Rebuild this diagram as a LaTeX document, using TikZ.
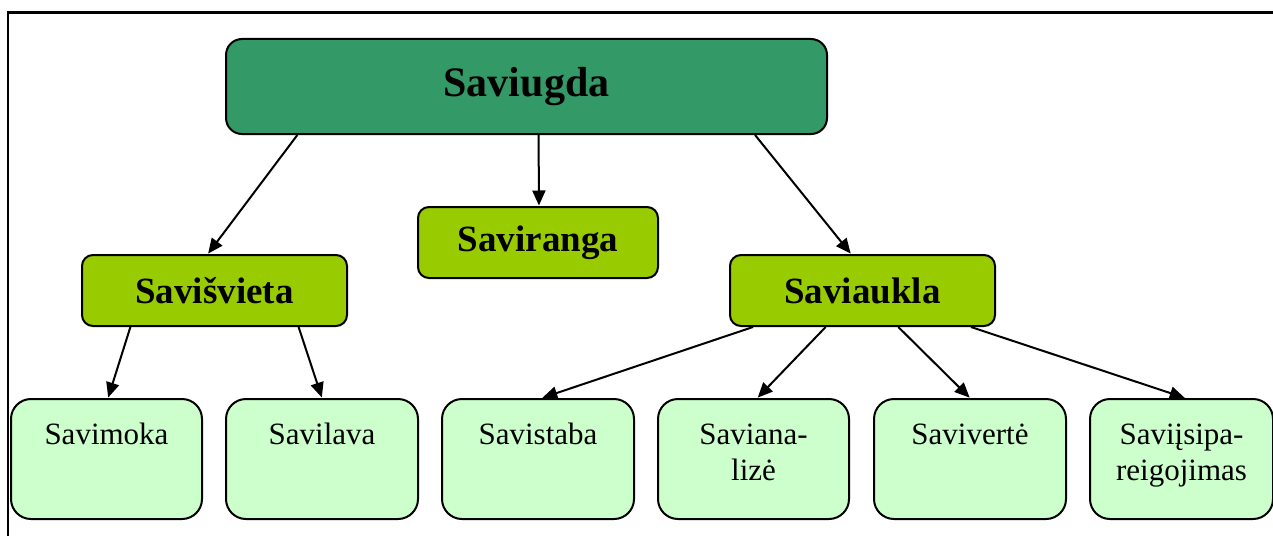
\documentclass[tikz,border=0pt]{standalone}
\usepackage{fontspec}
\setmainfont{Liberation Serif}
\usetikzlibrary{arrows.meta,calc}
\definecolor{topgreen}{HTML}{339966}
\definecolor{midgreen}{HTML}{99CC00}
\definecolor{lowgreen}{HTML}{CCFFCC}
\newcommand{\lowtext}[2]{\parbox[t][#1][t]{170pt}{\centering\fontsize{31}{36}\selectfont\rule{0pt}{37pt}#2}}
\begin{document}
\begin{tikzpicture}[x=1pt,y=-1pt,
  topbox/.style={draw=black, line width=2pt, fill=topgreen, rounded corners=16pt,
    anchor=north west, inner sep=0pt, font=\fontsize{42}{48}\selectfont\bfseries},
  midbox/.style={draw=black, line width=2pt, fill=midgreen, rounded corners=11pt,
    anchor=north west, inner sep=0pt, minimum height=71pt, font=\fontsize{37}{42}\selectfont\bfseries},
  lowbox/.style={draw=black, line width=2pt, fill=lowgreen, rounded corners=20pt,
    anchor=north west, inner xsep=4pt, inner ysep=8pt, minimum height=120pt},
  conn/.style={line width=2pt, -{Triangle[length=15pt,width=13pt]}, shorten >=0.5pt},
  frameline/.style={line width=2.2pt}]
\useasboundingbox (0,0) rectangle (1273,535);
% frame
\coordinate (fa) at (1274,12.5);
\coordinate (fb) at (8.3,12.5);
\coordinate (fc) at (8.3,536);
\draw[frameline] (fa) -- (fb) -- (fc);
% nodes
\node[topbox, minimum width=601pt, minimum height=95pt] (top) at (225,38) {\raisebox{1pt}{Saviugda}};
\node[midbox, minimum width=265pt] (svs) at (81,254) {Savišvieta};
\node[midbox, minimum width=240pt] (svr) at (417,206) {Saviranga};
\node[midbox, minimum width=265pt] (sva) at (729,254) {Saviaukla};
\node[lowbox, minimum width=191pt] (b1) at (10,398) {\lowtext{104pt}{Savimoka}};
\node[lowbox, minimum width=192pt] (b2) at (225,398) {\lowtext{104pt}{Savilava}};
\node[lowbox, minimum width=192pt] (b3) at (441,398) {\lowtext{104pt}{Savistaba}};
\node[lowbox, minimum width=191pt] (b4) at (657,398) {\lowtext{104pt}{Saviana-\\lizė}};
\node[lowbox, minimum width=192pt] (b5) at (873,398) {\lowtext{104pt}{Savivertė}};
\node[lowbox, minimum width=183pt] (b6) at (1089,398) {\lowtext{104pt}{Saviįsipa-\\reigojimas}};
% connectors
\draw[conn] ($(top.south west)!0.12!(top.south east)$) -- ($(svs.north west)!0.475!(svs.north east)$);
\draw[conn] ($(top.south west)!0.52!(top.south east)$) -- ($(svr.north west)!0.504!(svr.north east)$);
\draw[conn] ($(top.south west)!0.879!(top.south east)$) -- ($(sva.north west)!0.457!(sva.north east)$);
\draw[conn] ($(svs.south west)!0.185!(svs.south east)$) -- ($(b1.north west)!0.508!(b1.north east)$);
\draw[conn] ($(svs.south west)!0.815!(svs.south east)$) -- ($(b2.north west)!0.5!(b2.north east)$);
\draw[conn] ($(sva.south west)!0.09!(sva.south east)$) -- ($(b3.north west)!0.52!(b3.north east)$);
\draw[conn] ($(sva.south west)!0.362!(sva.south east)$) -- ($(b4.north west)!0.52!(b4.north east)$);
\draw[conn] ($(sva.south west)!0.634!(sva.south east)$) -- ($(b5.north west)!0.5!(b5.north east)$);
\draw[conn] ($(sva.south west)!0.906!(sva.south east)$) -- ($(b6.north west)!0.52!(b6.north east)$);
\end{tikzpicture}
\end{document}
